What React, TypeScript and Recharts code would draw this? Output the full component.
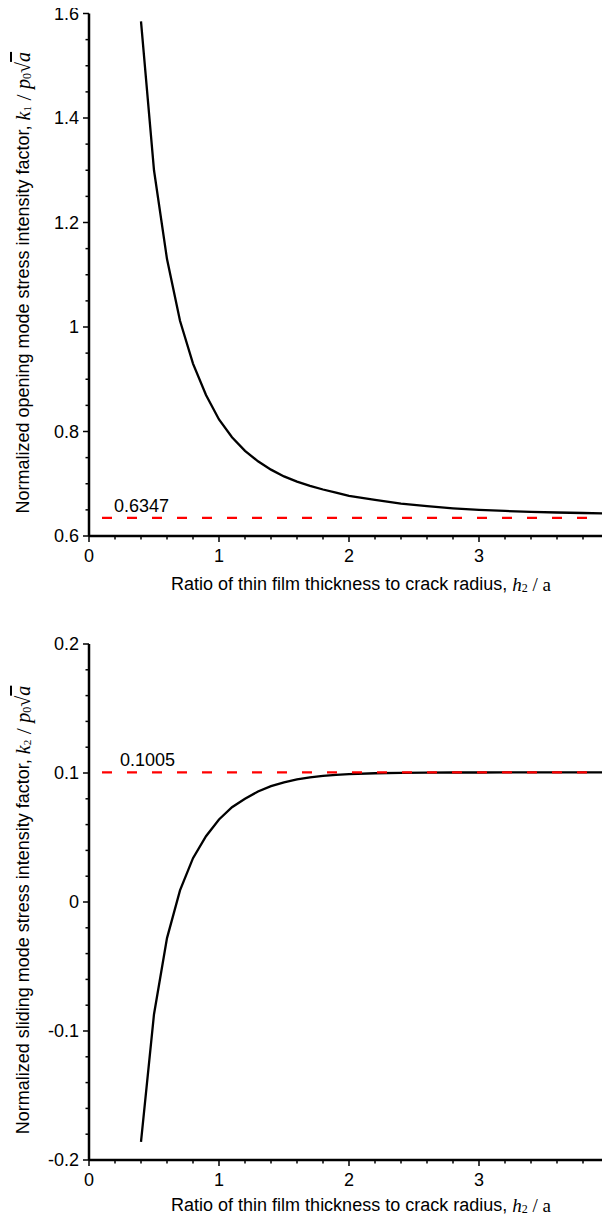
import React from "react";
import { LineChart, Line, XAxis, YAxis, LabelList } from "recharts";

// ---------- data ----------
const ratioX = [0.4, 0.5, 0.6, 0.7, 0.8, 0.9, 1.0, 1.1, 1.2, 1.3, 1.4, 1.5, 1.6, 1.7, 1.8, 1.9, 2.0, 2.2, 2.4, 2.6, 2.8, 3.0, 3.2, 3.4, 3.6, 3.8, 4.0];
const k1Values = [1.585, 1.3, 1.13, 1.012, 0.93, 0.87, 0.823, 0.789, 0.763, 0.743, 0.727, 0.714, 0.704, 0.696, 0.689, 0.683, 0.677, 0.669, 0.662, 0.657, 0.653, 0.65, 0.648, 0.646, 0.645, 0.644, 0.643];
const k2Values = [-0.186, -0.087, -0.028, 0.009, 0.034, 0.051, 0.064, 0.0735, 0.08, 0.0857, 0.0898, 0.0928, 0.095, 0.0966, 0.0977, 0.0986, 0.0992, 0.0998, 0.1001, 0.1003, 0.1004, 0.1004, 0.1005, 0.1005, 0.1005, 0.1005, 0.1005];
const asymX = [0.1, 4.0];
const k1Limit = 0.6347;
const k2Limit = 0.1005;

const xMajor = [0, 1, 2, 3, 4];
const xMinor = [0.2, 0.4, 0.6, 0.8, 1.2, 1.4, 1.6, 1.8, 2.2, 2.4, 2.6, 2.8, 3.2, 3.4, 3.6, 3.8];
const y1Major = [0.6, 0.8, 1.0, 1.2, 1.4, 1.6];
const y1Minor = [0.65, 0.7, 0.75, 0.85, 0.9, 0.95, 1.05, 1.1, 1.15, 1.25, 1.3, 1.35, 1.45, 1.5, 1.55];
const y2Major = [-0.2, -0.1, 0, 0.1, 0.2];
const y2Minor = [-0.18, -0.16, -0.14, -0.12, -0.08, -0.06, -0.04, -0.02, 0.02, 0.04, 0.06, 0.08, 0.12, 0.14, 0.16, 0.18];

const k1Data = ratioX.map((x, i) => ({ x, y: k1Values[i] }));
const k2Data = ratioX.map((x, i) => ({ x, y: k2Values[i] }));
const k1Dash = asymX.map((x) => ({ x, y: k1Limit }));
const k2Dash = asymX.map((x) => ({ x, y: k2Limit }));

// ---------- styles ----------
const SANS = "'Liberation Sans', Arial, Helvetica, sans-serif";
const SERIF = "'Liberation Serif', 'Times New Roman', serif";
const FS = 18;

const isMajor = (v: number, majors: number[]) => majors.some((m) => Math.abs(m - v) < 1e-9);
const fmt = (v: number) => String(Math.round(v * 1000) / 1000);

const makeYTick = (majors: number[]) => (props: any) => {
  const { x, y, payload } = props;
  const v = payload.value;
  const major = isMajor(v, majors);
  return (
    <g>
      <line x1={x - (major ? 6 : 3.5)} x2={x} y1={y} y2={y} stroke="#000" strokeWidth={1.5} />
      {major && (
        <text x={x - 10} y={y} textAnchor="end" dominantBaseline="central" fontFamily={SANS} fontSize={FS} fill="#000">
          {fmt(v)}
        </text>
      )}
    </g>
  );
};

const XTick = (props: any) => {
  const { x, y, payload } = props;
  const v = payload.value;
  const major = isMajor(v, xMajor);
  return (
    <g>
      <line x1={x} x2={x} y1={y} y2={y + (major ? 6 : 3.5)} stroke="#000" strokeWidth={1.5} />
      {major && (
        <text x={x} y={y + 20} textAnchor="middle" dominantBaseline="central" fontFamily={SANS} fontSize={FS} fill="#000">
          {fmt(v)}
        </text>
      )}
    </g>
  );
};

const makeXTitle = (gap: number) => (props: any) => {
  const vb = props.viewBox;
  const cx = vb.x + vb.width / 2 + 12;
  const cy = vb.y + gap;
  return (
    <text x={cx} y={cy} textAnchor="middle" dominantBaseline="central" fontFamily={SANS} fontSize={FS} fill="#000">
      <tspan>Ratio of thin film thickness to crack radius, </tspan>
      <tspan fontFamily={SERIF} fontStyle="italic" fontSize={19}>h</tspan>
      <tspan fontFamily={SERIF} fontSize={12} dy={4}>2</tspan>
      <tspan fontFamily={SERIF} fontSize={19} dy={-4}> / </tspan>
      <tspan fontFamily={SERIF} fontSize={19}>a</tspan>
    </text>
  );
};

const makeYTitle = (prefix: string, sub: string) => (props: any) => {
  const vb = props.viewBox;
  const cx = vb.x + 23;
  const cy = vb.y + vb.height / 2 + 8;
  return (
    <text
      x={cx}
      y={cy}
      transform={`rotate(-90, ${cx}, ${cy})`}
      textAnchor="middle"
      dominantBaseline="central"
      fontFamily={SANS}
      fontSize={FS}
      fill="#000"
    >
      <tspan>{prefix}</tspan>
      <tspan fontFamily={SERIF} fontStyle="italic" fontSize={20}>k</tspan>
      <tspan fontFamily={SERIF} fontSize={11} dy={4}>{sub}</tspan>
      <tspan fontFamily={SERIF} fontSize={22} dy={-4}> / </tspan>
      <tspan fontFamily={SERIF} fontStyle="italic" fontSize={20}>p</tspan>
      <tspan fontFamily={SERIF} fontSize={12} dy={4}>0</tspan>
      <tspan fontFamily={SERIF} fontSize={20} dy={-4}>√</tspan>
      <tspan fontFamily={SERIF} fontStyle="italic" fontSize={20} style={{ textDecoration: "overline" }}>a</tspan>
    </text>
  );
};

const makeDashLabel = (text: string, dx: number) => (props: any) => {
  const { x, y, index } = props;
  if (index !== 0) return null;
  return (
    <text x={x + dx} y={y - 12} fontFamily={SANS} fontSize={FS} fill="#000" dominantBaseline="central">
      {text}
    </text>
  );
};

const CHART_W = 640;
const AXIS_STYLE = { stroke: "#000", strokeWidth: 2.5 };

function TopChart() {
  return (
    <LineChart width={CHART_W} height={615} margin={{ top: 13.5, right: 31, left: 0, bottom: 0 }}>
      <XAxis
        type="number"
        dataKey="x"
        domain={[0, 4]}
        ticks={[...xMajor, ...xMinor].sort((a, b) => a - b)}
        interval={0}
        tick={XTick}
        tickSize={0}
        tickMargin={0}
        tickLine={false}
        axisLine={AXIS_STYLE}
        height={79}
        allowDataOverflow
        label={makeXTitle(48)}
      />
      <YAxis
        type="number"
        dataKey="y"
        domain={[0.6, 1.6]}
        ticks={[...y1Major, ...y1Minor].sort((a, b) => a - b)}
        interval={0}
        tick={makeYTick(y1Major)}
        tickSize={0}
        tickMargin={0}
        tickLine={false}
        axisLine={AXIS_STYLE}
        width={89}
        allowDataOverflow
        label={makeYTitle("Normalized opening mode stress intensity factor, ", "1")}
      />
      <Line data={k1Data} dataKey="y" type="linear" stroke="#000" strokeWidth={2.3} dot={false} isAnimationActive={false} />
      <Line data={k1Dash} dataKey="y" type="linear" stroke="#ff0000" strokeWidth={2.2} strokeDasharray="10 15" dot={false} isAnimationActive={false}>
        <LabelList dataKey="y" content={makeDashLabel("0.6347", 12)} />
      </Line>
    </LineChart>
  );
}

function BottomChart() {
  return (
    <LineChart width={CHART_W} height={596} margin={{ top: 14, right: 31, left: 0, bottom: 0 }}>
      <XAxis
        type="number"
        dataKey="x"
        domain={[0, 4]}
        ticks={[...xMajor, ...xMinor].sort((a, b) => a - b)}
        interval={0}
        tick={XTick}
        tickSize={0}
        tickMargin={0}
        tickLine={false}
        axisLine={AXIS_STYLE}
        height={66}
        allowDataOverflow
        label={makeXTitle(45)}
      />
      <YAxis
        type="number"
        dataKey="y"
        domain={[-0.2, 0.2]}
        ticks={[...y2Major, ...y2Minor].sort((a, b) => a - b)}
        interval={0}
        tick={makeYTick(y2Major)}
        tickSize={0}
        tickMargin={0}
        tickLine={false}
        axisLine={AXIS_STYLE}
        width={89}
        allowDataOverflow
        label={makeYTitle("Normalized sliding mode stress intensity factor, ", "2")}
      />
      <Line data={k2Data} dataKey="y" type="linear" stroke="#000" strokeWidth={2.3} dot={false} isAnimationActive={false} />
      <Line data={k2Dash} dataKey="y" type="linear" stroke="#ff0000" strokeWidth={2.2} strokeDasharray="10 15" dot={false} isAnimationActive={false}>
        <LabelList dataKey="y" content={makeDashLabel("0.1005", 18)} />
      </Line>
    </LineChart>
  );
}

export default function App() {
  return (
    <div
      style={{
        position: "relative",
        width: 610,
        height: 1226,
        margin: "-8px -8px -8px -8px",
        overflow: "hidden",
        background: "#fff",
      }}
    >
      <div style={{ position: "absolute", left: 0, top: 0 }}>
        <TopChart />
      </div>
      <div style={{ position: "absolute", left: 0, top: 630 }}>
        <BottomChart />
      </div>
    </div>
  );
}
